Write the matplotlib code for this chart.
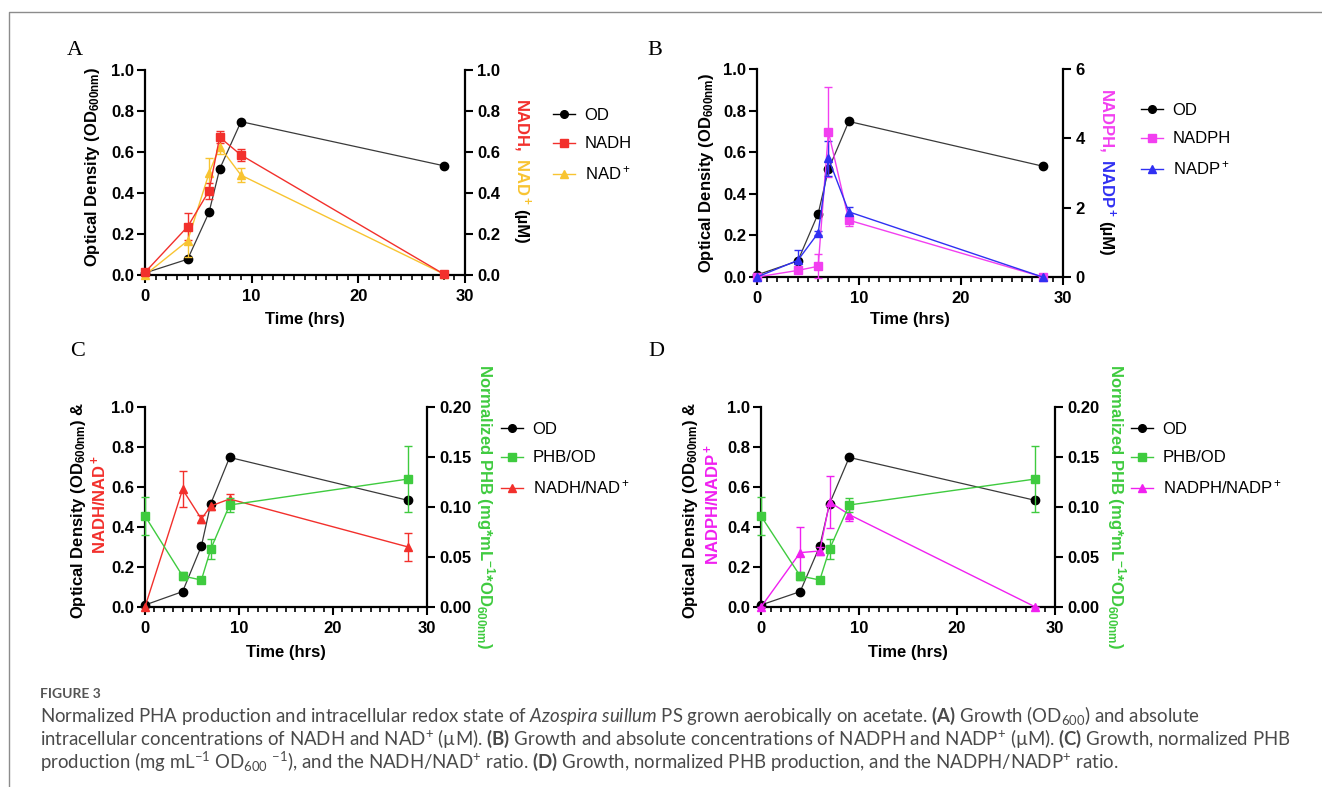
import matplotlib
matplotlib.use("Agg")
import matplotlib.pyplot as plt
import matplotlib.lines as mlines

# ---------------- data ----------------
time_hrs = [0, 4, 6, 7, 9, 28]
od = [0.01, 0.077, 0.305, 0.517, 0.748, 0.533]

# Panel A (right axis, uM)
nadh = [0.013, 0.236, 0.41, 0.672, 0.585, 0.005]
nadh_err = [0.01, 0.065, 0.04, 0.03, 0.03, 0.005]
nad = [0.0, 0.167, 0.496, 0.626, 0.487, 0.005]
nad_err = [0.005, 0.08, 0.076, 0.035, 0.035, 0.005]

# Panel B (right axis, uM)
nadph = [0.0, 0.19, 0.31, 4.19, 1.64, 0.0]
nadph_err = [0.02, 0.05, 0.35, 1.3, 0.17, 0.0]
nadp = [0.0, 0.48, 1.27, 3.42, 1.88, 0.0]
nadp_err = [0.02, 0.29, 0.05, 0.5, 0.15, 0.0]

# Panels C & D
phb_od = [0.091, 0.031, 0.027, 0.058, 0.102, 0.128]
phb_od_err = [0.019, 0.004, 0.002, 0.010, 0.007, 0.033]
nadh_ratio = [0.0, 0.588, 0.44, 0.505, 0.54, 0.30]
nadh_ratio_err = [0.0, 0.09, 0.02, 0.02, 0.025, 0.07]
nadph_ratio = [0.0, 0.272, 0.28, 0.525, 0.462, 0.0]
nadph_ratio_err = [0.0, 0.13, 0.02, 0.13, 0.03, 0.0]

x_ticks = [0, 10, 20, 30]
left_ticks = [0.0, 0.2, 0.4, 0.6, 0.8, 1.0]
right_ticks_A = [0.0, 0.2, 0.4, 0.6, 0.8, 1.0]
right_ticks_B = [0, 2, 4, 6]
right_ticks_CD = [0.00, 0.05, 0.10, 0.15, 0.20]

# ---------------- style ----------------
plt.rcParams["font.family"] = ["Liberation Sans", "DejaVu Sans"]
plt.rcParams["mathtext.fontset"] = "custom"
plt.rcParams["mathtext.default"] = "regular"
plt.rcParams["mathtext.rm"] = "Lato"
plt.rcParams["mathtext.it"] = "Lato:italic"
plt.rcParams["mathtext.bf"] = "Lato:bold"

W, H = 1322, 787
fig = plt.figure(figsize=(W / 100, H / 100), dpi=100)


def fx(px):
    return px / W


def fy(py):
    return 1 - py / H


C_OD = "#000000"
C_ODLINE = "#3a3a3a"
C_RED = "#f2302c"
C_GOLD = "#f8c431"
C_MAG = "#f23ff0"
C_BLUE = "#3030f2"
C_GREEN = "#3fcb3f"
C_MAG2 = "#f020f0"

FS = 12


def make_panel(l, r, t, b, rmax, rticks, rlabels):
    ax = fig.add_axes([fx(l), fy(b), fx(r) - fx(l), fy(t) - fy(b)])
    ax.set_xlim(0, 30)
    ax.set_ylim(0, 1.0)
    ax.patch.set_alpha(0)
    for s in ["top", "right"]:
        ax.spines[s].set_visible(False)
    for s in ["left", "bottom"]:
        ax.spines[s].set_linewidth(1.6)
    ax.set_xticks(x_ticks, labels=[str(v) for v in x_ticks], fontweight="bold", fontsize=FS)
    ax.set_xticks(range(0, 31), minor=True)
    ax.set_yticks(left_ticks, labels=[f"{v:.1f}" for v in left_ticks], fontweight="bold", fontsize=FS)
    ax.tick_params(axis="both", which="major", length=6, width=1.5, pad=2)
    ax.tick_params(axis="x", which="major", pad=4)
    ax.tick_params(axis="x", which="minor", length=3.5, width=1.2)
    ax2 = ax.twinx()
    ax2.set_ylim(0, rmax)
    for s in ["top", "left", "bottom"]:
        ax2.spines[s].set_visible(False)
    ax2.spines["right"].set_linewidth(1.6)
    ax2.set_yticks(rticks, labels=rlabels, fontweight="bold", fontsize=FS)
    ax2.tick_params(axis="y", length=6, width=1.5, pad=3)
    return ax, ax2


def series(ax, y, err, color, marker, lcolor=None, ms=6, lw=1.0, z=3):
    lc = lcolor if lcolor else color
    if err is None:
        ax.plot(time_hrs, y, color=lc, lw=lw, marker=marker, ms=ms, mfc=color, mec=color,
                clip_on=False, zorder=z)
    else:
        ax.errorbar(time_hrs, y, yerr=err, color=lc, lw=lw, marker=marker, ms=ms, mfc=color,
                    mec=color, ecolor=color, elinewidth=1.0, capsize=3, capthick=1.0,
                    clip_on=False, zorder=z)


def legend(x_px, y_px, items):
    handles = []
    labels = []
    for lab, color, marker in items:
        handles.append(mlines.Line2D([], [], color=color, lw=1.0, marker=marker, ms=5.5,
                                     mfc=color, mec=color))
        labels.append(lab)
    fig.legend(handles, labels, loc="upper left", bbox_to_anchor=(fx(x_px), fy(y_px)),
               frameon=False, fontsize=FS, handlelength=1.3, handletextpad=0.6,
               labelspacing=0.8, borderpad=0, borderaxespad=0)


renderer = fig.canvas.get_renderer()


def rotated_runs(xc, yc, runs, size=FS):
    arts, lens = [], []
    for s, c in runs:
        t = fig.text(0, 0, s, color=c, fontsize=size, fontweight="bold", rotation=270,
                     rotation_mode="anchor", ha="left", va="baseline")
        bb = t.get_window_extent(renderer=renderer)
        arts.append(t)
        lens.append(bb.height)
    em = size * 100 / 72
    gap = em * 0.278
    total = sum(lens) + gap * (len(runs) - 1)
    y = yc - total / 2
    xb = xc - 0.36 * em
    for t, L in zip(arts, lens):
        t.set_position((fx(xb), fy(y)))
        y += L + gap


def vlabel(xc, yc, s, color="black", rot=90, size=FS):
    fig.text(fx(xc), fy(yc), s, color=color, fontsize=size, fontweight="bold", rotation=rot,
             ha="center", va="center")


def xlabel(xc, yc):
    fig.text(fx(xc), fy(yc), "Time (hrs)", fontsize=FS, fontweight="bold", ha="center", va="center")


OD_LABEL = r"Optical Density (OD$_{600nm}$)"

# ---------------- Panel A ----------------
axA, axA2 = make_panel(145, 465, 70, 275, 1.0, right_ticks_A, [f"{v:.1f}" for v in right_ticks_A])
series(axA, od, None, C_OD, "o", lcolor=C_ODLINE, lw=0.9)
series(axA2, nad, nad_err, C_GOLD, "^")
series(axA2, nadh, nadh_err, C_RED, "s")
vlabel(93, 167, OD_LABEL)
rotated_runs(522, 172, [("NADH,", C_RED), ("NAD$^+$", C_GOLD), ("(µM)", "black")])
xlabel(305, 320)
legend(553, 108, [("OD", C_OD, "o"), ("NADH", C_RED, "s"), ("NAD$^+$", C_GOLD, "^")])

# ---------------- Panel B ----------------
axB, axB2 = make_panel(757, 1063, 69, 277, 6, right_ticks_B, [str(v) for v in right_ticks_B])
series(axB, od, None, C_OD, "o", lcolor=C_ODLINE, lw=0.9)
series(axB2, nadph, nadph_err, C_MAG, "s")
series(axB2, nadp, nadp_err, C_BLUE, "^")
vlabel(707, 173, OD_LABEL)
rotated_runs(1107, 173, [("NADPH,", C_MAG), ("NADP$^+$", C_BLUE), ("(µM)", "black")])
xlabel(910, 320)
legend(1141, 103, [("OD", C_OD, "o"), ("NADPH", C_MAG, "s"), ("NADP$^+$", C_BLUE, "^")])

# ---------------- Panel C ----------------
axC, axC2 = make_panel(145, 427, 407, 607, 0.20, right_ticks_CD, [f"{v:.2f}" for v in right_ticks_CD])
series(axC, nadh_ratio, nadh_ratio_err, C_RED, "^")
series(axC, od, None, C_OD, "o", lcolor=C_ODLINE, lw=0.9)
series(axC2, phb_od, phb_od_err, C_GREEN, "s")
vlabel(78, 510, OD_LABEL + " &")
vlabel(99, 504, "NADH/NAD$^+$", color=C_RED)
vlabel(485, 507, r"Normalized PHB (mg*mL$^{-1}$*OD$_{600nm}$)", color=C_GREEN, rot=270)
xlabel(286, 652)
legend(501, 422, [("OD", C_OD, "o"), ("PHB/OD", C_GREEN, "s"), ("NADH/NAD$^+$", C_RED, "^")])

# ---------------- Panel D ----------------
axD, axD2 = make_panel(761, 1055, 407, 607, 0.20, right_ticks_CD, [f"{v:.2f}" for v in right_ticks_CD])
series(axD, od, None, C_OD, "o", lcolor=C_ODLINE, lw=0.9)
series(axD, nadph_ratio, nadph_ratio_err, C_MAG2, "^")
series(axD2, phb_od, phb_od_err, C_GREEN, "s")
vlabel(691, 510, OD_LABEL + " &")
vlabel(712, 504, "NADPH/NADP$^+$", color=C_MAG2)
vlabel(1116, 507, r"Normalized PHB (mg*mL$^{-1}$*OD$_{600nm}$)", color=C_GREEN, rot=270)
xlabel(908, 652)
legend(1131, 422, [("OD", C_OD, "o"), ("PHB/OD", C_GREEN, "s"), ("NADPH/NADP$^+$", C_MAG2, "^")])

# ---------------- panel letters ----------------
for letter, x, y in [("A", 67, 55), ("B", 647, 55), ("C", 70, 356), ("D", 648, 356)]:
    fig.text(fx(x), fy(y), letter, fontsize=16, family="Liberation Serif", ha="left", va="baseline")

# ---------------- frame lines ----------------
fig.add_artist(mlines.Line2D([fx(9), fx(9), 1.0], [0.0, fy(12), fy(12)], transform=fig.transFigure,
                             color="#8c8c8c", lw=1.0))

# ---------------- caption ----------------
CAP = "#4a4a4a"
fig.text(fx(40), fy(698), "FIGURE 3", fontsize=10, family="Lato", fontweight="bold", color="#555555",
         ha="left", va="baseline")
cap_lines = [
    r"Normalized PHA production and intracellular redox state of $\mathit{Azospira\ suillum}$ PS grown aerobically on acetate. $\mathbf{(A)}$ Growth (OD$_{600}$) and absolute",
    r"intracellular concentrations of NADH and NAD$^{+}$ (µM). $\mathbf{(B)}$ Growth and absolute concentrations of NADPH and NADP$^{+}$ (µM). $\mathbf{(C)}$ Growth, normalized PHB",
    r"production (mg mL$^{-1}$ OD$_{600}$ $^{-1}$), and the NADH/NAD$^{+}$ ratio. $\mathbf{(D)}$ Growth, normalized PHB production, and the NADPH/NADP$^{+}$ ratio.",
]
for i, line in enumerate(cap_lines):
    fig.text(fx(40), fy(722 + 23 * i), line, fontsize=13.4, family="Lato", color=CAP,
             ha="left", va="baseline")

fig.savefig("out.png", dpi=100)
